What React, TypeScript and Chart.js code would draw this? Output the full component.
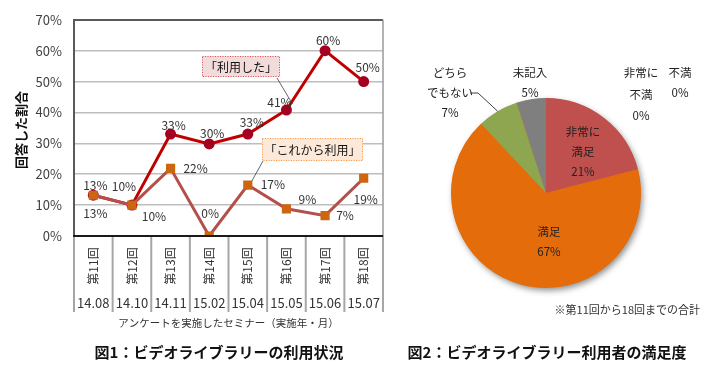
import React, { useEffect, useRef } from 'react';
import { Chart, registerables } from 'chart.js';

Chart.register(...registerables);

// ---------- data ----------
const sessions = ['第11回', '第12回', '第13回', '第14回', '第15回', '第16回', '第17回', '第18回'];
const months = ['14.08', '14.10', '14.11', '15.02', '15.04', '15.05', '15.06', '15.07'];
const usedValues = [13.2, 10, 33, 29.8, 33, 40.8, 60, 50];
const planValues = [13.2, 10, 21.9, 0, 16.5, 8.8, 6.6, 18.7];
const usedName = '「利用した」';
const planName = '「これから利用」';
const yMin = 0;
const yMax = 70;
const yStep = 10;
const xTitle = 'アンケートを実施したセミナー（実施年・月）';
const yTitle = '回答した割合';
const caption1 = '図1：ビデオライブラリーの利用状況';

const satisfactionLabels = ['非常に\n満足', '満足', 'どちら\nでもない', '未記入', '非常に\n不満', '不満'];
const satisfactionValues = [21, 67, 7, 5, 0, 0];
const pieNote = '※第11回から18回までの合計';
const caption2 = '図2：ビデオライブラリー利用者の満足度';

// ---------- styles ----------
const FONT = '"Noto Sans CJK JP", "Noto Sans", sans-serif';
const usedLabelOffsets = [[2, -10], [-8, -19], [3, -9], [3, -11], [4, -12], [-7, -8], [3, -10], [4, -14]];
const planLabelOffsets = [[2, 18], [22, 11], [25, 0], [1, -23], [25, -1], [21, -9], [20, 0], [2, 21]];
const pieColors = ['#C0504D', '#E46C0A', '#8EA64F', '#7F7F7F', '#4F81BD', '#8064A2'];
// label anchor (relative to pie centre): [dx, dy of first line, lineHeight]
const pieLabelPos = [[37, -61, 20], [3, 39, 20], [-96, -120, 20], [-16, -120, 20], [95, -120, 21.5], [134, -120, 20]];

const linePlugin = {
  id: 'lineDecor',
  afterDraw(chart: any) {
    const { ctx, chartArea } = chart;
    const xs = chart.scales.x;
    const { left, right, top, bottom } = chartArea;
    ctx.save();
    // right border
    ctx.strokeStyle = '#9A9A9A';
    ctx.lineWidth = 1.5;
    ctx.beginPath();
    ctx.moveTo(right, top);
    ctx.lineTo(right, bottom);
    ctx.stroke();

    // category separators
    const n = sessions.length;
    const bounds: number[] = [left];
    for (let i = 0; i < n - 1; i++) {
      bounds.push((xs.getPixelForValue(i) + xs.getPixelForValue(i + 1)) / 2);
    }
    bounds.push(right);
    ctx.strokeStyle = '#A6A6A6';
    ctx.lineWidth = 2;
    bounds.forEach((bx) => {
      ctx.beginPath();
      ctx.moveTo(bx, bottom);
      ctx.lineTo(bx, bottom + 76);
      ctx.stroke();
    });
    // bottom axis line
    ctx.strokeStyle = '#1A1A1A';
    ctx.lineWidth = 2;
    ctx.beginPath();
    ctx.moveTo(left - 1, bottom);
    ctx.lineTo(right, bottom);
    ctx.stroke();

    // vertical session labels & months
    ctx.fillStyle = '#333333';
    for (let i = 0; i < n; i++) {
      const px = xs.getPixelForValue(i);
      ctx.save();
      ctx.translate(px, bottom + 30);
      ctx.rotate(-Math.PI / 2);
      ctx.font = `12px ${FONT}`;
      ctx.textAlign = 'center';
      ctx.textBaseline = 'middle';
      ctx.fillText(sessions[i], 0, 0);
      ctx.restore();
      ctx.font = `13px ${FONT}`;
      ctx.textAlign = 'center';
      ctx.textBaseline = 'middle';
      ctx.fillText(months[i], px, bottom + 67);
    }
    // axis titles
    ctx.font = `10.5px ${FONT}`;
    ctx.fillText(xTitle, (left + right) / 2, bottom + 87);
    ctx.save();
    ctx.translate(21, 130);
    ctx.rotate(-Math.PI / 2);
    ctx.font = `bold 13px ${FONT}`;
    ctx.fillStyle = '#111111';
    ctx.fillText(yTitle, 0, 0);
    ctx.restore();

    // data labels
    ctx.font = `12px ${FONT}`;
    ctx.fillStyle = '#333333';
    const metaUsed = chart.getDatasetMeta(0);
    const metaPlan = chart.getDatasetMeta(1);
    metaUsed.data.forEach((pt: any, i: number) => {
      const [dx, dy] = usedLabelOffsets[i];
      ctx.fillText(Math.round(usedValues[i]) + '%', pt.x + dx, pt.y + dy);
    });
    metaPlan.data.forEach((pt: any, i: number) => {
      const [dx, dy] = planLabelOffsets[i];
      ctx.fillText(Math.round(planValues[i]) + '%', pt.x + dx, pt.y + dy);
    });

    // callouts
    const drawBox = (x: number, y: number, w: number, h: number, fill: string, border: string, text: string) => {
      ctx.fillStyle = fill;
      ctx.fillRect(x, y, w, h);
      ctx.setLineDash([1, 1.5]);
      ctx.strokeStyle = border;
      ctx.lineWidth = 1;
      ctx.strokeRect(x + 0.5, y + 0.5, w - 1, h - 1);
      ctx.setLineDash([]);
      ctx.fillStyle = '#111111';
      ctx.font = `12px ${FONT}`;
      ctx.textAlign = 'center';
      ctx.textBaseline = 'middle';
      ctx.fillText(text, x + w / 2, y + h / 2 + 0.5);
    };
    ctx.strokeStyle = '#404040';
    ctx.lineWidth = 0.8;
    const p5 = metaUsed.data[5];
    ctx.beginPath();
    ctx.moveTo(277, 78);
    ctx.lineTo(p5.x + 6, p5.y - 6);
    ctx.stroke();
    const p4 = metaPlan.data[4];
    ctx.beginPath();
    ctx.moveTo(263, 161);
    ctx.lineTo(p4.x + 4, p4.y - 4);
    ctx.stroke();
    drawBox(202, 56, 78, 21, '#F2DCDB', '#D9534F', usedName);
    drawBox(262, 138, 101, 23, '#FDE9D9', '#F79646', planName);

    ctx.restore();
  },
};

const pieShadowPlugin = {
  id: 'pieShadow',
  beforeDatasetsDraw(chart: any) {
    const arc = chart.getDatasetMeta(0).data[0];
    if (!arc) return;
    const { ctx } = chart;
    ctx.save();
    ctx.shadowColor = 'rgba(0,0,0,0.45)';
    ctx.shadowBlur = 6;
    ctx.shadowOffsetX = 2;
    ctx.shadowOffsetY = 3;
    ctx.fillStyle = '#E46C0A';
    ctx.beginPath();
    ctx.arc(arc.x, arc.y, arc.outerRadius - 0.5, 0, Math.PI * 2);
    ctx.fill();
    ctx.restore();
  },
};

const pieLabelPlugin = {
  id: 'pieLabels',
  afterDraw(chart: any) {
    const { ctx } = chart;
    const meta = chart.getDatasetMeta(0);
    const a0 = meta.data[0];
    const cx = a0.x;
    const cy = a0.y;
    ctx.save();
    ctx.font = `11.5px ${FONT}`;
    ctx.fillStyle = '#222222';
    ctx.textAlign = 'center';
    ctx.textBaseline = 'middle';
    satisfactionLabels.forEach((lab, i) => {
      const [dx, dy, lh] = pieLabelPos[i];
      const lines = lab.split('\n').concat([satisfactionValues[i] + '%']);
      lines.forEach((ln, k) => ctx.fillText(ln, cx + dx, cy + dy + k * lh));
    });
    // leader line for どちらでもない
    const g = meta.data[2];
    const mid = (g.startAngle + g.endAngle) / 2;
    ctx.strokeStyle = '#404040';
    ctx.lineWidth = 1;
    ctx.beginPath();
    ctx.moveTo(cx - 76, cy - 100);
    ctx.lineTo(cx - 68, cy - 100);
    ctx.lineTo(cx + Math.cos(mid) * g.outerRadius, cy + Math.sin(mid) * g.outerRadius);
    ctx.stroke();
    // note
    ctx.font = `11px ${FONT}`;
    ctx.textAlign = 'right';
    ctx.fillStyle = '#333333';
    ctx.fillText(pieNote, 310, 310);
    ctx.restore();
  },
};

export default function App() {
  const lineRef = useRef<HTMLCanvasElement>(null);
  const pieRef = useRef<HTMLCanvasElement>(null);

  useEffect(() => {
    const lc = new Chart(lineRef.current as HTMLCanvasElement, {
      type: 'line',
      data: {
        labels: sessions,
        datasets: [
          {
            label: usedName,
            data: usedValues,
            order: 1,
            borderColor: '#C00000',
            borderWidth: 3,
            pointStyle: 'circle',
            pointRadius: 5.5,
            pointBackgroundColor: '#A50021',
            pointBorderColor: '#A50021',
            pointBorderWidth: 0,
            tension: 0,
          },
          {
            label: planName,
            data: planValues,
            order: 0,
            borderColor: '#B3504B',
            borderWidth: 3,
            pointStyle: 'rect',
            pointRadius: 6.5,
            pointBackgroundColor: '#CC6611',
            pointBorderColor: '#CC6611',
            pointBorderWidth: 0,
            tension: 0,
          },
        ],
      },
      options: {
        animation: false,
        responsive: false,
        layout: { padding: { left: 0, top: 15, right: 7, bottom: 138 } },
        plugins: { legend: { display: false }, tooltip: { enabled: false } },
        scales: {
          x: { display: false, offset: true },
          y: {
            min: yMin,
            max: yMax,
            afterFit: (s: any) => {
              s.width = 74;
            },
            ticks: {
              stepSize: yStep,
              padding: 12,
              color: '#404040',
              font: { family: FONT, size: 13 },
              callback: (v: any) => v + '%',
            },
            grid: {
              drawTicks: false,
              color: (c: any) => (c.tick && c.tick.value === yMax ? '#595959' : c.tick && c.tick.value === yMin ? '#1A1A1A' : '#BDBDBD'),
              lineWidth: (c: any) => (c.tick && (c.tick.value === yMax || c.tick.value === yMin) ? 2 : 1.5),
            },
            border: { display: true, color: '#595959', width: 2 },
          },
        },
      } as any,
      plugins: [linePlugin],
    });

    const pc = new Chart(pieRef.current as HTMLCanvasElement, {
      type: 'pie',
      data: {
        labels: satisfactionLabels,
        datasets: [{ data: satisfactionValues, backgroundColor: pieColors, borderWidth: 0 }],
      },
      options: {
        animation: false,
        responsive: false,
        layout: { padding: { left: 61, right: 81, top: 98, bottom: 86 } },
        plugins: { legend: { display: false }, tooltip: { enabled: false } },
      } as any,
      plugins: [pieShadowPlugin, pieLabelPlugin],
    });

    return () => {
      lc.destroy();
      pc.destroy();
    };
  }, []);

  const captionStyle: React.CSSProperties = {
    position: 'absolute',
    top: 341,
    fontFamily: FONT,
    fontWeight: 'bold',
    fontSize: 15,
    lineHeight: '22px',
    color: '#111',
    whiteSpace: 'nowrap',
    transform: 'translateX(-50%)',
  };

  return (
    <div style={{ position: 'fixed', left: 0, top: 0, width: 722, height: 374, background: '#fff', overflow: 'hidden' }}>
      <canvas ref={lineRef} width={390} height={374} style={{ position: 'absolute', left: 0, top: 0, width: 390, height: 374 }} />
      <canvas ref={pieRef} width={332} height={374} style={{ position: 'absolute', left: 390, top: 0, width: 332, height: 374 }} />
      <div style={{ ...captionStyle, left: 219 }}>{caption1}</div>
      <div style={{ ...captionStyle, left: 547 }}>{caption2}</div>
    </div>
  );
}
